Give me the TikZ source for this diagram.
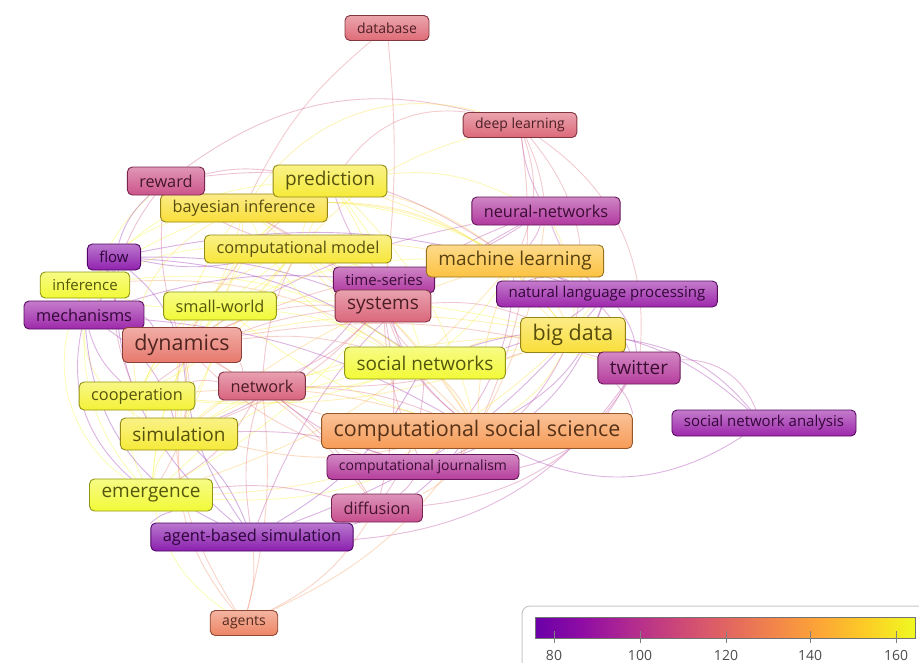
\documentclass[tikz,border=0pt]{standalone}
\usepackage{fontspec}
\setmainfont{Open Sans}
\usepackage{xcolor}
\definecolor{pviolet}{HTML}{6A00A8}
\definecolor{ppurple}{HTML}{8F0DA4}
\definecolor{pmagenta}{HTML}{B12A90}
\definecolor{prose}{HTML}{CC4778}
\definecolor{pcoral}{HTML}{E16462}
\definecolor{porange}{HTML}{F2844B}
\definecolor{pamber}{HTML}{FCA636}
\definecolor{pgold}{HTML}{FCCE25}
\definecolor{pyellow}{HTML}{F0F921}
\colorlet{cdb}{pcoral!70!prose}
\colorlet{cdl}{pcoral!60!prose}
\colorlet{crew}{prose!80!pmagenta}
\colorlet{cpred}{pgold!40!pyellow}
\colorlet{cbay}{pgold!70!pyellow}
\colorlet{cnn}{pmagenta!75!ppurple}
\colorlet{ccm}{pgold!50!pyellow}
\colorlet{cflow}{ppurple!70!pviolet}
\colorlet{cml}{pgold!55!pamber}
\colorlet{cts}{pmagenta!70!ppurple}
\colorlet{cinf}{pyellow}
\colorlet{cnlp}{ppurple!90!pmagenta}
\colorlet{cmech}{ppurple!85!pmagenta}
\colorlet{csw}{pyellow}
\colorlet{csys}{prose!50!pcoral}
\colorlet{cbd}{pgold!70!pyellow}
\colorlet{cdyn}{pcoral!80!porange}
\colorlet{csn}{pyellow}
\colorlet{ctw}{pmagenta!90!ppurple}
\colorlet{cnet}{prose!60!pcoral}
\colorlet{ccoop}{pyellow!80!pgold}
\colorlet{csna}{ppurple!90!pmagenta}
\colorlet{ccss}{porange!65!pamber}
\colorlet{csim}{pyellow!60!pgold}
\colorlet{ccj}{pmagenta!90!ppurple}
\colorlet{cemer}{pyellow}
\colorlet{cdiff}{prose!60!pmagenta}
\colorlet{cabs}{ppurple!55!pviolet}
\colorlet{cagents}{porange!60!pcoral}
\usepackage{tikz}
\usetikzlibrary{backgrounds}
\pgfdeclarehorizontalshading{plasma}{100bp}{color(0bp)=(pviolet); color(25bp)=(pviolet); color(31.25bp)=(ppurple); color(37.5bp)=(pmagenta); color(43.75bp)=(prose); color(50bp)=(pcoral); color(56.25bp)=(porange); color(62.5bp)=(pamber); color(68.75bp)=(pgold); color(75bp)=(pyellow); color(100bp)=(pyellow)}

\begin{document}
\begin{tikzpicture}[
  x=1pt, y=-1pt,
  kw/.style={rectangle, rounded corners=5pt, draw=#1!60!black, line width=0.9pt, top color=#1!55!white, bottom color=#1!90!white, text=#1!35!black, inner xsep=12pt, inner ysep=0pt},
  lbltiny/.style={font=\fontsize{14}{14}\selectfont, minimum height=25pt},
  lblsmall/.style={font=\fontsize{15}{15}\selectfont, minimum height=26pt},
  lblmed/.style={font=\fontsize{16.3}{16}\selectfont, minimum height=28pt},
  lblbig/.style={font=\fontsize{19}{19}\selectfont, minimum height=32pt},
  lblhuge/.style={font=\fontsize{21.5}{21}\selectfont, minimum height=35pt},
  lk/.style={draw=#1!80!white, line width=0.9pt, draw opacity=0.4}
]
  \useasboundingbox (0,0) rectangle (919,662);

  \node[kw=cdb, lbltiny] (db) at (387,28) {database};
  \node[kw=cdl, lbltiny] (dl) at (520,125) {deep learning};
  \node[kw=cbay, lblmed] (bay) at (244,208) {bayesian inference};
  \node[kw=crew, lblmed] (rew) at (166,181) {reward};
  \node[kw=cpred, lblbig] (pred) at (330,181) {prediction};
  \node[kw=cnn, lblmed] (nn) at (546,211) {neural-networks};
  \node[kw=ccm, lblmed] (cm) at (298,249) {computational model};
  \node[kw=cflow, lblsmall] (flow) at (114,257) {flow};
  \node[kw=cts, lblsmall] (ts) at (384,280) {time-series};
  \node[kw=cml, lblbig] (ml) at (515,261) {machine learning};
  \node[kw=cinf, lblsmall] (inf) at (85,285) {inference};
  \node[kw=cnlp, lblsmall] (nlp) at (607,294) {natural language processing};
  \node[kw=cmech, lblmed] (mech) at (84,315) {mechanisms};
  \node[kw=csw, lblmed] (sw) at (220,306) {small-world};
  \node[kw=csys, lblbig] (sys) at (383,306) {systems};
  \node[kw=cbd, lblhuge] (bd) at (573,335) {big data};
  \node[kw=cdyn, lblhuge] (dyn) at (182,345) {dynamics};
  \node[kw=csn, lblbig] (sn) at (425,363) {social networks};
  \node[kw=ctw, lblbig] (tw) at (639,368) {twitter};
  \node[kw=cnet, lblmed] (net) at (262,386) {network};
  \node[kw=ccoop, lblmed] (coop) at (137,396) {cooperation};
  \node[kw=csna, lblsmall] (sna) at (764,423) {social network analysis};
  \node[kw=ccss, lblhuge] (css) at (477,431) {computational social science};
  \node[kw=csim, lblbig] (sim) at (179,434) {simulation};
  \node[kw=ccj, lbltiny] (cj) at (423,467) {computational journalism};
  \node[kw=cemer, lblbig] (emer) at (151,495) {emergence};
  \node[kw=cdiff, lblmed] (diff) at (377,508) {diffusion};
  \node[kw=cabs, lblmed] (abs) at (252,537) {agent-based simulation};
  \node[kw=cagents, lbltiny] (agents) at (244,623) {agents};

  \begin{scope}[on background layer]
    \draw[lk=cdb] (db) to[bend right=12] (bay);
    \draw[lk=cdb] (db) to[bend left=6] (sys);
    \draw[lk=cdl] (dl) to[bend left=8] (nn);
    \draw[lk=cnn] (dl) to[bend right=10] (nn);
    \draw[lk=cdl] (dl) to[bend left=20] (ml);
    \draw[lk=cdl] (dl) to[bend left=25] (bd);
    \draw[lk=cdl] (dl) to[bend right=30] (pred);
    \draw[lk=crew] (dl) to[bend right=25] (rew);
    \draw[lk=ccm] (dl) to[bend right=15] (cm);
    \draw[lk=cdl] (dl) to[bend left=30] (tw);
    \draw[lk=cbay] (dl) to[bend right=35] (bay);
    \draw[lk=cdl] (dl) to[bend left=15] (css);
    \draw[lk=cnn] (nn) to[bend left=10] (ml);
    \draw[lk=cnn] (nn) to[bend right=15] (nlp);
    \draw[lk=cbd] (nn) to[bend left=15] (bd);
    \draw[lk=cnn] (nn) to[bend right=10] (sys);
    \draw[lk=cpred] (nn) to[bend right=15] (pred);
    \draw[lk=cnn] (nn) to[bend right=10] (dyn);
    \draw[lk=ccss] (nn) to[bend left=10] (css);
    \draw[lk=cnn] (nn) to[bend left=8] (ts);
    \draw[lk=cnn] (nn) to[bend right=20] (abs);
    \draw[lk=cnlp] (ml) to[bend right=10] (nlp);
    \draw[lk=cml] (ml) to[bend left=10] (bd);
    \draw[lk=cml] (ml) to[bend right=15] (sys);
    \draw[lk=csn] (ml) to[bend left=10] (sn);
    \draw[lk=cml] (ml) to[bend right=10] (css);
    \draw[lk=cml] (ml) to[bend right=10] (pred);
    \draw[lk=ccm] (ml) to[bend left=12] (cm);
    \draw[lk=cdyn] (ml) to[bend right=8] (dyn);
    \draw[lk=ctw] (ml) to[bend left=20] (tw);
    \draw[lk=cml] (ml) to[bend right=10] (sim);
    \draw[lk=crew] (ml) to[bend right=20] (rew);
    \draw[lk=cinf] (ml) to[bend right=30] (inf);
    \draw[lk=cml] (ml) to[bend left=15] (emer);
    \draw[lk=ccj] (ml) to[bend left=20] (cj);
    \draw[lk=cnlp] (nlp) to[bend left=15] (tw);
    \draw[lk=cnlp] (nlp) to[bend left=20] (css);
    \draw[lk=cbd] (nlp) to[bend right=10] (bd);
    \draw[lk=cnlp] (nlp) to[bend left=10] (sn);
    \draw[lk=cnlp] (nlp) to[bend left=25] (cj);
    \draw[lk=cts] (nlp) to[bend right=12] (ts);
    \draw[lk=cnlp] (nlp) to[bend left=15] (abs);
    \draw[lk=cbd] (bd) to[bend left=15] (css);
    \draw[lk=cbd] (bd) to[bend right=10] (sn);
    \draw[lk=csys] (bd) to[bend right=12] (sys);
    \draw[lk=ccj] (bd) to[bend left=20] (cj);
    \draw[lk=cbd] (bd) to[bend right=10] (dyn);
    \draw[lk=cnet] (bd) to[bend left=10] (net);
    \draw[lk=cbd] (bd) to[bend right=12] (sim);
    \draw[lk=cbd] (bd) to[bend right=20] (cm);
    \draw[lk=cbd] (bd) to[bend right=25] (bay);
    \draw[lk=cbd] (bd) to[bend right=15] (pred);
    \draw[lk=cbd] (bd) to[bend left=20] (emer);
    \draw[lk=cbd] (bd) to[bend left=12] (coop);
    \draw[lk=csw] (bd) to[bend right=8] (sw);
    \draw[lk=ctw] (tw) to[bend left=35] (sna);
    \draw[lk=ctw] (tw) to[bend left=15] (css);
    \draw[lk=csn] (tw) to[bend right=10] (sn);
    \draw[lk=ctw] (tw) to[bend left=25] (cj);
    \draw[lk=cdiff] (tw) to[bend left=25] (diff);
    \draw[lk=cdyn] (tw) to[bend right=12] (dyn);
    \draw[lk=ctw] (tw) to[bend left=25] (abs);
    \draw[lk=csna] (sna) to[bend left=30] (css);
    \draw[lk=csna] (sna) to[bend right=30] (sn);
    \draw[lk=csna] (sna) to[bend right=20] (bd);
    \draw[lk=ccss] (css) to[bend right=10] (sn);
    \draw[lk=cdyn] (css) to[bend left=10] (dyn);
    \draw[lk=ccss] (css) to[bend left=12] (sim);
    \draw[lk=cnet] (css) to[bend right=10] (net);
    \draw[lk=ccj] (css) to[bend left=15] (cj);
    \draw[lk=ccss] (css) to[bend left=20] (diff);
    \draw[lk=cemer] (css) to[bend left=15] (emer);
    \draw[lk=ccss] (css) to[bend right=10] (coop);
    \draw[lk=csys] (css) to[bend left=15] (sys);
    \draw[lk=ccm] (css) to[bend right=12] (cm);
    \draw[lk=cabs] (css) to[bend left=18] (abs);
    \draw[lk=ccss] (css) to[bend left=15] (agents);
    \draw[lk=cpred] (css) to[bend right=15] (pred);
    \draw[lk=ccss] (css) to[bend right=12] (bay);
    \draw[lk=csw] (css) to[bend left=10] (sw);
    \draw[lk=cmech] (css) to[bend right=12] (mech);
    \draw[lk=cts] (css) to[bend left=20] (ts);
    \draw[lk=ccss] (css) to[bend right=25] (inf);
    \draw[lk=cdyn] (sn) to[bend right=10] (dyn);
    \draw[lk=csn] (sn) to[bend left=10] (net);
    \draw[lk=csn] (sn) to[bend right=12] (sim);
    \draw[lk=csys] (sn) to[bend left=10] (sys);
    \draw[lk=csn] (sn) to[bend right=10] (sw);
    \draw[lk=ccoop] (sn) to[bend left=12] (coop);
    \draw[lk=csn] (sn) to[bend right=15] (emer);
    \draw[lk=ccm] (sn) to[bend left=10] (cm);
    \draw[lk=cdiff] (sn) to[bend left=15] (diff);
    \draw[lk=csn] (sn) to[bend right=10] (pred);
    \draw[lk=cflow] (sn) to[bend right=15] (flow);
    \draw[lk=csn] (sn) to[bend left=20] (bay);
    \draw[lk=csn] (sn) to[bend right=20] (inf);
    \draw[lk=cabs] (sn) to[bend left=15] (abs);
    \draw[lk=cdyn] (dyn) to[bend left=15] (sim);
    \draw[lk=ccoop] (dyn) to[bend right=10] (coop);
    \draw[lk=cdyn] (dyn) to[bend left=20] (emer);
    \draw[lk=cnet] (dyn) to[bend left=10] (net);
    \draw[lk=csw] (dyn) to[bend right=10] (sw);
    \draw[lk=cmech] (dyn) to[bend right=15] (mech);
    \draw[lk=cinf] (dyn) to[bend left=15] (inf);
    \draw[lk=cflow] (dyn) to[bend right=12] (flow);
    \draw[lk=crew] (dyn) to[bend left=12] (rew);
    \draw[lk=cbay] (dyn) to[bend right=10] (bay);
    \draw[lk=cdyn] (dyn) to[bend left=10] (pred);
    \draw[lk=ccm] (dyn) to[bend right=10] (cm);
    \draw[lk=cdyn] (dyn) to[bend left=12] (sys);
    \draw[lk=cabs] (dyn) to[bend right=15] (abs);
    \draw[lk=cdyn] (dyn) to[bend right=15] (cj);
    \draw[lk=cdyn] (dyn) to[bend left=12] (diff);
    \draw[lk=csim] (sim) to[bend right=15] (emer);
    \draw[lk=csim] (sim) to[bend left=15] (coop);
    \draw[lk=cabs] (sim) to[bend left=12] (abs);
    \draw[lk=cagents] (sim) to[bend right=20] (agents);
    \draw[lk=csim] (sim) to[bend left=10] (net);
    \draw[lk=cmech] (sim) to[bend right=20] (mech);
    \draw[lk=csim] (sim) to[bend left=10] (cm);
    \draw[lk=csim] (sim) to[bend left=35] (inf);
    \draw[lk=csim] (sim) to[bend left=25] (pred);
    \draw[lk=csim] (sim) to[bend left=20] (bay);
    \draw[lk=csim] (sim) to[bend right=10] (sw);
    \draw[lk=csys] (sim) to[bend right=12] (sys);
    \draw[lk=cts] (sim) to[bend right=15] (ts);
    \draw[lk=cabs] (emer) to[bend right=15] (abs);
    \draw[lk=cemer] (emer) to[bend right=20] (agents);
    \draw[lk=cemer] (emer) to[bend left=20] (coop);
    \draw[lk=cmech] (emer) to[bend left=30] (mech);
    \draw[lk=cemer] (emer) to[bend right=10] (sys);
    \draw[lk=cemer] (emer) to[bend left=40] (inf);
    \draw[lk=cemer] (emer) to[bend left=25] (cm);
    \draw[lk=cemer] (emer) to[bend left=15] (sw);
    \draw[lk=cemer] (emer) to[bend left=45] (rew);
    \draw[lk=cagents] (abs) to[bend left=10] (agents);
    \draw[lk=cabs] (abs) to[bend right=10] (diff);
    \draw[lk=cnet] (abs) to[bend left=12] (net);
    \draw[lk=cabs] (abs) to[bend left=30] (mech);
    \draw[lk=cabs] (abs) to[bend left=25] (flow);
    \draw[lk=cagents] (agents) to[bend right=15] (diff);
    \draw[lk=cagents] (agents) to[bend left=20] (dyn);
    \draw[lk=cagents] (agents) to[bend right=10] (net);
    \draw[lk=cmech] (mech) to[bend right=15] (coop);
    \draw[lk=cinf] (mech) to[bend left=20] (inf);
    \draw[lk=cmech] (mech) to[bend right=20] (flow);
    \draw[lk=cmech] (mech) to[bend left=10] (ts);
    \draw[lk=cinf] (inf) to[bend left=15] (bay);
    \draw[lk=cinf] (inf) to[bend left=20] (pred);
    \draw[lk=cflow] (inf) to[bend right=15] (flow);
    \draw[lk=csw] (inf) to[bend right=10] (sw);
    \draw[lk=cinf] (inf) to[bend left=10] (cm);
    \draw[lk=cflow] (flow) to[bend left=15] (rew);
    \draw[lk=cflow] (flow) to[bend right=10] (cm);
    \draw[lk=cflow] (flow) to[bend left=10] (sys);
    \draw[lk=cflow] (flow) to[bend left=15] (nlp);
    \draw[lk=crew] (rew) to[bend left=10] (pred);
    \draw[lk=crew] (rew) to[bend right=10] (cm);
    \draw[lk=crew] (rew) to[bend left=10] (sys);
    \draw[lk=crew] (rew) to[bend right=30] (coop);
    \draw[lk=cpred] (pred) to[bend right=10] (cm);
    \draw[lk=cpred] (pred) to[bend left=10] (sys);
    \draw[lk=cts] (pred) to[bend right=10] (ts);
    \draw[lk=cpred] (pred) to[bend left=20] (coop);
    \draw[lk=cpred] (pred) to[bend right=15] (sw);
    \draw[lk=cbay] (bay) to[bend left=10] (sw);
    \draw[lk=cbay] (bay) to[bend right=10] (ts);
    \draw[lk=cbay] (bay) to[bend left=15] (ml);
    \draw[lk=cbay] (bay) to[bend right=35] (coop);
    \draw[lk=ccm] (cm) to[bend left=10] (sw);
    \draw[lk=ccm] (cm) to[bend right=10] (sys);
    \draw[lk=cnet] (cm) to[bend right=10] (net);
    \draw[lk=ccm] (cm) to[bend right=20] (coop);
    \draw[lk=csw] (sw) to[bend right=15] (coop);
    \draw[lk=csw] (sw) to[bend left=10] (ml);
    \draw[lk=csys] (sys) to[bend left=10] (net);
    \draw[lk=csys] (sys) to[bend right=10] (cj);
    \draw[lk=cdiff] (sys) to[bend left=12] (diff);
    \draw[lk=csys] (sys) to[bend right=15] (coop);
    \draw[lk=cnet] (net) to[bend right=10] (coop);
    \draw[lk=ccj] (net) to[bend right=10] (cj);
    \draw[lk=cnet] (net) to[bend left=10] (diff);
    \draw[lk=cnet] (net) to[bend left=15] (emer);
    \draw[lk=ccj] (cj) to[bend left=10] (diff);
    \draw[lk=ccj] (cj) to[bend right=10] (sim);
    \draw[lk=cdiff] (diff) to[bend right=10] (emer);
  \end{scope}

  \draw[rounded corners=8pt, draw=black!22, line width=1pt] (522,606) rectangle (940,690);
  \shade[shading=plasma] (535,617) rectangle (915,638);
  \draw[black!55, line width=0.8pt] (535,617) rectangle (915,638);
  \node[font=\fontsize{14}{14}\selectfont, text=black!70] (t80) at (554,655) {80};
  \node[font=\fontsize{14}{14}\selectfont, text=black!70] (t100) at (640,655) {100};
  \node[font=\fontsize{14}{14}\selectfont, text=black!70] (t120) at (726,655) {120};
  \node[font=\fontsize{14}{14}\selectfont, text=black!70] (t140) at (810,655) {140};
  \node[font=\fontsize{14}{14}\selectfont, text=black!70] (t160) at (896,655) {160};
  \draw[black!50, line width=0.8pt] (554,631) -- (554,643);
  \draw[black!50, line width=0.8pt] (640,631) -- (640,643);
  \draw[black!50, line width=0.8pt] (726,631) -- (726,643);
  \draw[black!50, line width=0.8pt] (810,631) -- (810,643);
  \draw[black!50, line width=0.8pt] (896,631) -- (896,643);
\end{tikzpicture}
\end{document}
